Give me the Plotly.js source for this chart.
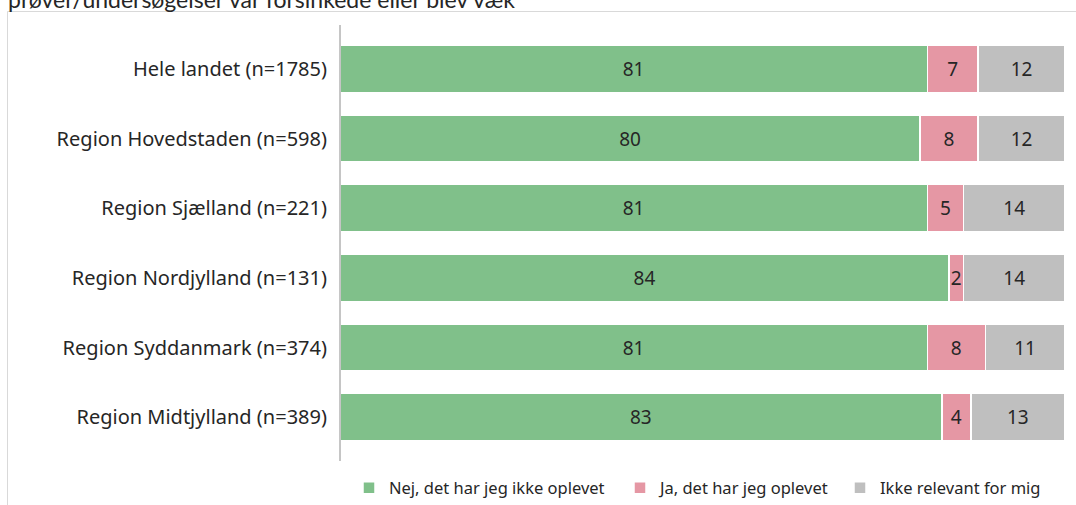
<!DOCTYPE html>
<html>
<head>
<meta charset="utf-8">
<script src="https://cdn.plot.ly/plotly-3.0.1.min.js"></script>
<style>html,body{margin:0;padding:0;background:#fff;}#chart{width:1076px;height:505px;}</style>
</head>
<body>
<div id="chart"></div>
<script>
var categories = [
  "Hele landet (n=1785)",
  "Region Hovedstaden (n=598)",
  "Region Sjælland (n=221)",
  "Region Nordjylland (n=131)",
  "Region Syddanmark (n=374)",
  "Region Midtjylland (n=389)"
];
var seriesNames = ["Nej, det har jeg ikke oplevet", "Ja, det har jeg oplevet", "Ikke relevant for mig"];
var nej = [81, 80, 81, 84, 81, 83];
var ja = [7, 8, 5, 2, 8, 4];
var ikkeRelevant = [12, 12, 14, 14, 11, 13];
var colors = ["#80C08A", "#E597A4", "#BFBFBF"];
var titleText = "prøver/undersøgelser var forsinkede eller blev væk";

var labelFont = "Noto Sans, Open Sans, sans-serif";
var legendIds = ["legend", "legend2", "legend3"];
var values = [nej, ja, ikkeRelevant];
var traces = values.map(function (v, i) {
  return {
    type: "bar",
    orientation: "h",
    name: seriesNames[i],
    legend: legendIds[i],
    y: categories,
    x: v,
    text: v.map(String),
    textposition: "inside",
    insidetextanchor: "middle",
    textangle: 0,
    constraintext: "none",
    textfont: {family: labelFont, size: 19, color: "#262626"},
    marker: {color: colors[i], line: {color: "#ffffff", width: 1.5}},
    hoverinfo: "skip"
  };
});

// pixel helpers for plot geometry
var L = 340, R = 11, T = 34, B = 53, W = 1076, H = 505;
var pw = W - L - R, ph = H - T - B;
function px(x) { return (x - L) / pw; }
function py(y) { return (H - B - y) / ph; }

function legendAt(xPix) {
  return {
    orientation: "h",
    x: px(xPix), xanchor: "left",
    y: py(488), yanchor: "middle",
    font: {family: labelFont, size: 16.5, color: "#262626"},
    bgcolor: "rgba(0,0,0,0)",
    itemwidth: 30
  };
}

var layout = {
  width: W, height: H,
  margin: {l: L, r: R, t: T, b: B, pad: 0, autoexpand: false},
  paper_bgcolor: "#ffffff",
  plot_bgcolor: "#ffffff",
  barmode: "stack",
  bargap: 0.325,
  showlegend: true,
  legend: legendAt(349),
  legend2: legendAt(620),
  legend3: legendAt(840),
  xaxis: {range: [0, 100], visible: false, fixedrange: true},
  yaxis: {
    autorange: "reversed",
    showline: false, showgrid: false, zeroline: false,
    ticks: "", ticklabelstandoff: 12,
    tickfont: {family: labelFont, size: 20, color: "#262626"}
  },
  shapes: [
    {type: "line", xref: "paper", yref: "paper", x0: 0, x1: 0, y0: py(25), y1: py(461), line: {color: "#8c8c8c", width: 1}},
    {type: "line", xref: "paper", yref: "paper", x0: px(7.5), x1: px(1076), y0: py(11.5), y1: py(11.5), line: {color: "#d9d9d9", width: 1}},
    {type: "line", xref: "paper", yref: "paper", x0: px(7.5), x1: px(7.5), y0: py(11.5), y1: py(505), line: {color: "#d9d9d9", width: 1}}
  ],
  annotations: [
    {text: titleText, xref: "paper", yref: "paper", x: px(6), xanchor: "left", y: py(15), yanchor: "bottom",
     showarrow: false, font: {family: "Lato, sans-serif", size: 23, color: "#262626"}}
  ]
};

Plotly.newPlot("chart", traces, layout, {displayModeBar: false, staticPlot: true});
</script>
</body>
</html>
